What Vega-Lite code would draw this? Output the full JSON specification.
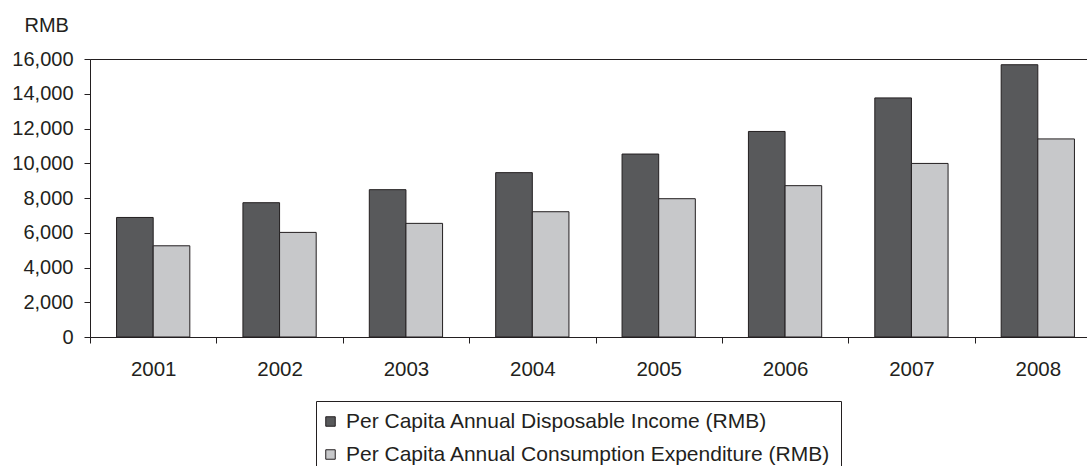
{
  "$schema": "https://vega.github.io/schema/vega-lite/v6.json",
  "width": 1011,
  "height": 278,
  "autosize": {"type": "none"},
  "padding": {"left": 90, "top": 59, "right": 0, "bottom": 129},
  "background": "white",
  "config": {
    "view": {"stroke": "#231f20", "strokeWidth": 1},
    "font": "Liberation Sans"
  },
  "data": {
    "values": [
      {"year": "2001", "series": "Per Capita Annual Disposable Income (RMB)", "value": 6880},
      {"year": "2001", "series": "Per Capita Annual Consumption Expenditure (RMB)", "value": 5250},
      {"year": "2002", "series": "Per Capita Annual Disposable Income (RMB)", "value": 7730},
      {"year": "2002", "series": "Per Capita Annual Consumption Expenditure (RMB)", "value": 6020},
      {"year": "2003", "series": "Per Capita Annual Disposable Income (RMB)", "value": 8480},
      {"year": "2003", "series": "Per Capita Annual Consumption Expenditure (RMB)", "value": 6540},
      {"year": "2004", "series": "Per Capita Annual Disposable Income (RMB)", "value": 9460},
      {"year": "2004", "series": "Per Capita Annual Consumption Expenditure (RMB)", "value": 7210},
      {"year": "2005", "series": "Per Capita Annual Disposable Income (RMB)", "value": 10530},
      {"year": "2005", "series": "Per Capita Annual Consumption Expenditure (RMB)", "value": 7960},
      {"year": "2006", "series": "Per Capita Annual Disposable Income (RMB)", "value": 11830},
      {"year": "2006", "series": "Per Capita Annual Consumption Expenditure (RMB)", "value": 8710},
      {"year": "2007", "series": "Per Capita Annual Disposable Income (RMB)", "value": 13760},
      {"year": "2007", "series": "Per Capita Annual Consumption Expenditure (RMB)", "value": 9990},
      {"year": "2008", "series": "Per Capita Annual Disposable Income (RMB)", "value": 15670},
      {"year": "2008", "series": "Per Capita Annual Consumption Expenditure (RMB)", "value": 11400}
    ]
  },
  "mark": {"type": "bar", "stroke": "#231f20", "strokeWidth": 1},
  "encoding": {
    "x": {
      "field": "year",
      "type": "ordinal",
      "scale": {"paddingInner": 0, "paddingOuter": 0},
      "axis": {
        "title": null,
        "labelAngle": 0,
        "tickBand": "extent",
        "tickSize": 6,
        "labelPadding": 16,
        "labelFontSize": 20.5,
        "labelFont": "Liberation Sans",
        "labelColor": "#231f20",
        "domainColor": "#231f20",
        "tickColor": "#231f20"
      }
    },
    "xOffset": {
      "field": "series",
      "type": "nominal",
      "sort": ["Per Capita Annual Disposable Income (RMB)", "Per Capita Annual Consumption Expenditure (RMB)"],
      "scale": {"paddingInner": 0, "paddingOuter": 0.725}
    },
    "y": {
      "field": "value",
      "type": "quantitative",
      "scale": {"domain": [0, 16000], "nice": false},
      "axis": {
        "title": "RMB",
        "titleAngle": 0,
        "titleAlign": "left",
        "titleBaseline": "alphabetic",
        "titleX": -66,
        "titleY": -27.5,
        "titleFontSize": 20,
        "titleFontWeight": "normal",
        "titleFont": "Liberation Sans",
        "titleColor": "#231f20",
        "values": [0, 2000, 4000, 6000, 8000, 10000, 12000, 14000, 16000],
        "format": ",.0f",
        "grid": false,
        "tickSize": 6,
        "labelPadding": 11,
        "labelFontSize": 20,
        "labelFont": "Liberation Sans",
        "labelColor": "#231f20",
        "domainColor": "#231f20",
        "tickColor": "#231f20"
      }
    },
    "color": {
      "field": "series",
      "type": "nominal",
      "sort": ["Per Capita Annual Disposable Income (RMB)", "Per Capita Annual Consumption Expenditure (RMB)"],
      "scale": {
        "domain": ["Per Capita Annual Disposable Income (RMB)", "Per Capita Annual Consumption Expenditure (RMB)"],
        "range": ["#58595b", "#c7c8ca"]
      },
      "legend": {
        "title": null,
        "orient": "none",
        "legendX": 226,
        "legendY": 342,
        "direction": "vertical",
        "strokeColor": "#231f20",
        "padding": 10,
        "symbolOffset": -6,
        "symbolType": "square",
        "symbolSize": 90,
        "symbolStrokeColor": "#231f20",
        "symbolStrokeWidth": 1,
        "labelFontSize": 21,
        "labelFont": "Liberation Sans",
        "labelColor": "#231f20",
        "rowPadding": 11,
        "labelOffset": 5,
        "labelLimit": 1000
      }
    }
  }
}
